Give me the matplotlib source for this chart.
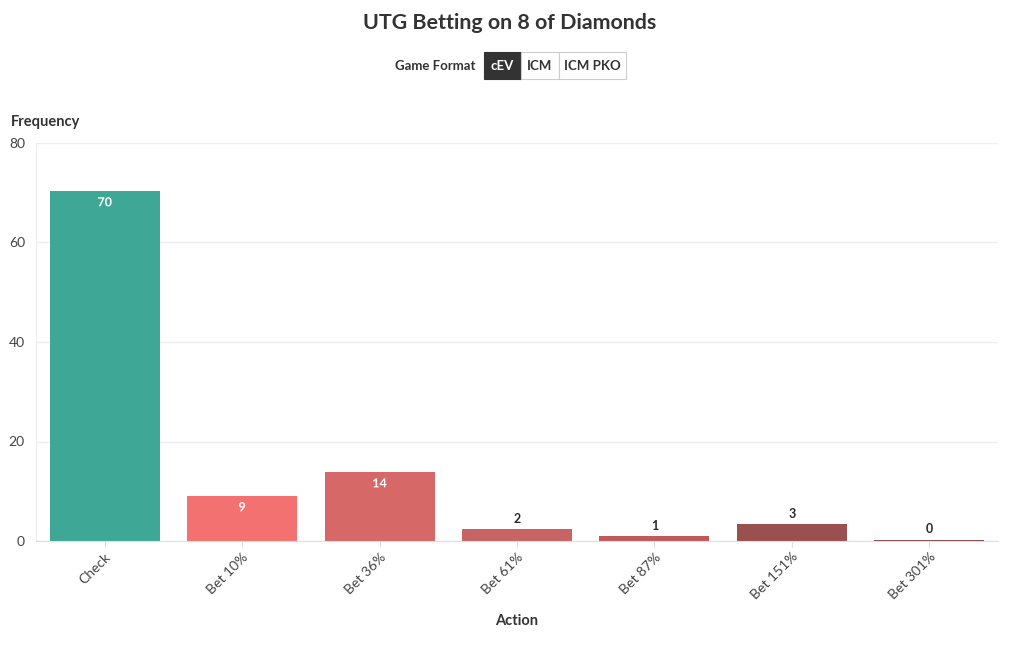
import matplotlib.pyplot as plt
from matplotlib.patches import FancyBboxPatch
import matplotlib.patheffects as pe

plt.rcParams['font.family'] = ['Lato', 'DejaVu Sans']

actions = ['Check', 'Bet 10%', 'Bet 36%', 'Bet 61%', 'Bet 87%', 'Bet 151%', 'Bet 301%']
frequency = [70.4, 9.1, 13.9, 2.4, 1.0, 3.4, 0.3]
colors = ['#3fa796', '#f47171', '#d76868', '#c86464', '#c05a5a', '#9b5050', '#8e4747']
formats = ['cEV', 'ICM', 'ICM PKO']

fig = plt.figure(figsize=(10.2, 6.5), dpi=100)
ax = fig.add_axes([36 / 1020, 1 - 541 / 650, 962 / 1020, 398 / 650])

x = range(len(actions))
bars = ax.bar(x, frequency, width=0.8, color=colors, zorder=2)

# etykiety wartosci
for b, v, c in zip(bars, frequency, colors):
    cx = b.get_x() + b.get_width() / 2
    if v >= 8:
        ax.annotate(f'{v:.0f}', (cx, v), xytext=(0, -4), textcoords='offset points',
                    ha='center', va='top', fontsize=9, fontweight='bold', color='white',
                    path_effects=[pe.withStroke(linewidth=2.5, foreground=c)])
    else:
        ax.annotate(f'{v:.0f}', (cx, v), xytext=(0, 3), textcoords='offset points',
                    ha='center', va='bottom', fontsize=9, fontweight='bold', color='#2a2a2a')

ax.set_xlim(-0.5, len(actions) - 0.5)
ax.set_ylim(0, 80)
ax.set_yticks([0, 20, 40, 60, 80])
ax.set_xticks(list(x))
ax.set_xticklabels(actions, rotation=45, ha='right', rotation_mode='anchor')
ax.tick_params(axis='x', length=4, color='#dddddd', labelsize=10, labelcolor='#444444', pad=3)
ax.tick_params(axis='y', length=0, labelsize=10, labelcolor='#444444', pad=8)
ax.grid(axis='y', color='#eeeeee', linewidth=1, zorder=0)
for s in ['top', 'right']:
    ax.spines[s].set_visible(False)
ax.spines['left'].set_color('#eeeeee')
ax.spines['bottom'].set_color('#e0e0e0')

fig.text(0.5, 1 - 23 / 650, 'UTG Betting on 8 of Diamonds', ha='center', va='center',
         fontsize=15.4, fontweight='bold', color='#333333')
fig.text(11 / 1020, 1 - 122 / 650, 'Frequency', ha='left', va='center',
         fontsize=10.5, fontweight='bold', color='#333333')
fig.text(517 / 1020, 1 - 621 / 650, 'Action', ha='center', va='center',
         fontsize=10.5, fontweight='bold', color='#333333')

# przelacznik formatu gry
fig.text(476 / 1020, 1 - 66 / 650, 'Game Format', ha='right', va='center',
         fontsize=9.5, fontweight='bold', color='#333333')
edges = [484, 521, 559, 626]
for i, name in enumerate(formats):
    x0, x1 = edges[i], edges[i + 1]
    active = i == 0
    box = FancyBboxPatch((x0 / 1020, 1 - 79 / 650), (x1 - x0) / 1020, 27 / 650,
                         boxstyle='square,pad=0', transform=fig.transFigure,
                         facecolor='#333333' if active else 'white',
                         edgecolor='#333333' if active else '#cccccc', linewidth=0.8)
    fig.patches.append(box)
    fig.text((x0 + x1) / 2 / 1020, 1 - 66 / 650, name, ha='center', va='center',
             fontsize=9.5, fontweight='bold', color='white' if active else '#333333')

fig.savefig('out.png', dpi=100)
